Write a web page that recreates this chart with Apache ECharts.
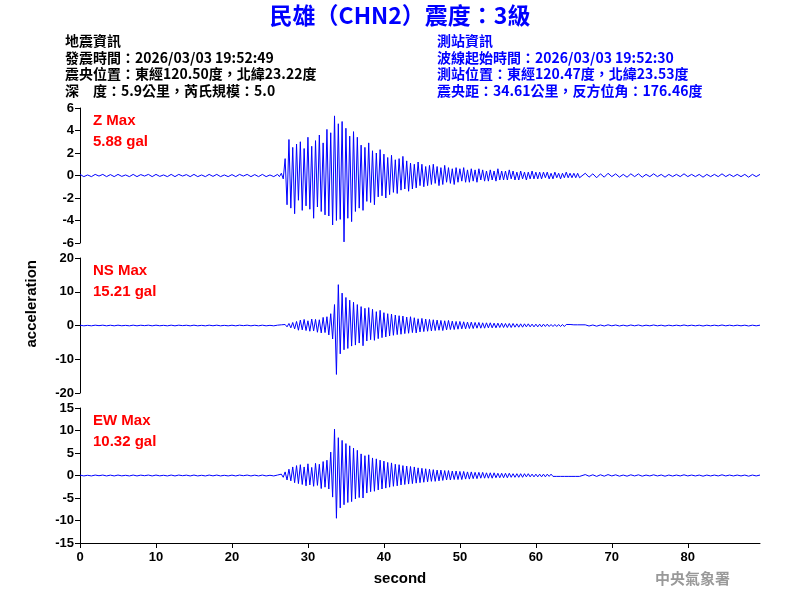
<!DOCTYPE html>
<html><head><meta charset="utf-8">
<script src="https://cdn.jsdelivr.net/npm/echarts@6/dist/echarts.min.js"></script>
<style>html,body{margin:0;background:#fff}#c{width:800px;height:600px}</style>
</head><body><div id="c"></div>
<script>
var dtMain = 0.25, tMain0 = 26, dtSlow = 0.5, tTail0 = 66.5;
var preNoise = [0.1,-0.1,0.05,-0.1,0.1,-0.05,0.1,-0.1,0.08,-0.1,0.1,-0.08,0.05,-0.1,0.1,-0.1,0.08,-0.05,0.1,-0.1,0.1,-0.08,0.05,-0.1,0.1,-0.1,
  0.1,-0.05,0.08,-0.1,0.1,-0.1,0.05,-0.1,0.1,-0.08,0.1,-0.1,0.05,-0.1,0.08,-0.1,0.1,-0.05,0.1,-0.1,0.08,-0.1,0.1,-0.1,0.05,-0.1];
var tailNoise = [0.2,-0.15,0.15,-0.2,0.15,-0.15,0.2,-0.1,0.15,-0.15,0.1,-0.15,0.15,-0.1,0.15,-0.15,0.1,-0.1,0.15,-0.1,0.1,-0.15,0.1,-0.1,
  0.1,-0.1,0.15,-0.1,0.1,-0.1,0.1,-0.15,0.1,-0.1,0.1,-0.1,0.15,-0.1,0.1,-0.1,0.1,-0.1,0.1,-0.15,0.1,-0.1,0.1];
var zMain = [0.1,-0.1,0.2,-0.3,1.5,-2.6,3.2,-2.9,2.5,-3.4,2.8,-2.2,3.0,-3.1,2.4,-2.7,3.4,-3.0,2.6,-3.8,
  3.1,-2.8,3.6,-3.2,2.9,-3.5,4.1,-3.6,3.8,-4.4,5.3,-4.0,4.6,-3.9,4.8,-5.9,4.2,-3.8,3.5,-4.1,
  3.9,-3.2,3.4,-2.9,2.7,-3.1,2.5,-2.3,2.9,-2.4,2.2,-2.6,2.0,-1.9,2.3,-1.8,1.9,-2.0,1.6,-1.7,
  1.8,-1.5,1.4,-1.6,1.5,-1.3,1.7,-1.2,1.3,-1.4,1.1,-1.2,1.0,-1.1,1.2,-0.9,1.0,-1.0,0.8,-0.9,
  0.9,-0.8,1.0,-0.7,0.8,-0.9,0.7,-0.8,0.9,-0.6,0.7,-0.7,0.6,-0.8,0.7,-0.6,0.6,-0.5,0.7,-0.6,
  0.5,-0.6,0.6,-0.5,0.5,-0.6,0.6,-0.4,0.5,-0.5,0.4,-0.5,0.5,-0.4,0.4,-0.5,0.6,-0.4,0.4,-0.4,
  0.4,-0.4,0.5,-0.3,0.4,-0.4,0.3,-0.4,0.4,-0.3,0.3,-0.4,0.3,-0.3,0.4,-0.3,0.3,-0.3,0.3,-0.3,
  0.3,-0.2,0.3,-0.3,0.2,-0.3,0.3,-0.2,0.2,-0.3,0.2,-0.2,0.3,-0.2,0.2,-0.2,0.2,-0.2,0.2,-0.2];
var nsMain = [0.1,-0.1,0.2,-0.2,0.3,-0.4,0.6,-0.7,0.9,-1.0,1.2,-1.4,1.6,-1.3,1.8,-1.5,1.4,-1.7,1.9,-1.6,
  1.8,-2.0,1.7,-2.2,2.4,-2.1,2.6,-2.8,3.5,-4.0,6.2,-14.5,12.1,-8.4,9.6,-7.2,8.3,-6.8,7.5,-6.1,
  6.9,-5.8,6.2,-5.2,5.6,-6.0,5.1,-4.6,5.3,-4.2,4.8,-4.4,4.1,-3.9,4.5,-3.6,3.8,-3.4,3.5,-3.1,
  3.4,-2.9,3.1,-2.7,2.9,-2.6,2.8,-2.4,2.5,-2.3,2.6,-2.1,2.3,-2.2,2.0,-1.9,2.1,-1.8,1.9,-1.7,
  1.8,-1.6,1.7,-1.5,1.6,-1.4,1.5,-1.5,1.4,-1.3,1.5,-1.2,1.3,-1.2,1.2,-1.1,1.2,-1.0,1.1,-1.0,
  1.0,-0.9,1.0,-0.9,0.9,-0.8,0.9,-0.8,0.8,-0.8,0.8,-0.7,0.8,-0.7,0.7,-0.7,0.7,-0.6,0.7,-0.6,
  0.6,-0.6,0.6,-0.6,0.6,-0.5,0.5,-0.5,0.5,-0.5,0.5,-0.4,0.5,-0.4,0.4,-0.4,0.4,-0.4,0.4,-0.4,
  0.4,-0.3,0.4,-0.3,0.3,-0.3,0.3,-0.3,0.3,-0.3,0.3,-0.3,0.3,-0.2,0.3,-0.2,0.2,-0.2,0.2,-0.2];
var ewMain = [0.1,-0.1,0.3,-0.4,0.8,-1.0,1.4,-1.2,1.9,-1.6,2.2,-1.8,2.4,-2.0,1.9,-2.3,2.6,-2.1,1.8,-2.4,
  2.7,-2.2,2.5,-2.9,3.1,-2.6,3.4,-3.0,5.2,-4.8,10.3,-9.5,8.4,-7.2,7.8,-6.5,7.1,-6.0,6.6,-5.8,
  6.1,-5.2,5.6,-4.9,4.8,-5.0,4.4,-3.9,4.6,-3.6,3.9,-3.5,3.7,-3.2,3.4,-3.0,3.2,-2.8,2.9,-2.6,
  2.8,-2.4,2.5,-2.3,2.4,-2.1,2.2,-2.0,2.1,-1.9,2.0,-1.8,1.9,-1.7,1.7,-1.6,1.6,-1.5,1.5,-1.4,
  1.4,-1.3,1.3,-1.3,1.2,-1.2,1.2,-1.1,1.1,-1.0,1.1,-1.0,1.0,-0.9,1.0,-0.9,0.9,-0.9,0.9,-0.8,
  0.8,-0.8,0.8,-0.7,0.7,-0.7,0.7,-0.6,0.7,-0.6,0.6,-0.6,0.6,-0.6,0.6,-0.5,0.5,-0.5,0.5,-0.5,
  0.5,-0.5,0.5,-0.4,0.4,-0.4,0.4,-0.4,0.4,-0.4,0.4,-0.3,0.4,-0.3,0.3,-0.3,0.3,-0.3,0.3,-0.3,
  0.3,-0.3,0.3,-0.2,0.3,-0.2,0.2,-0.2,0.2,-0.2,0.2,-0.2,0.2,-0.2,0.2,-0.2,0.2,-0.2,0.2,-0.2];
var panelNames = ['Z Max', 'NS Max', 'EW Max'];
var panelPeaks = ['5.88 gal', '15.21 gal', '10.32 gal'];
var yRanges = [[-6, 6, 2], [-20, 20, 10], [-15, 15, 5]];
var xTicks = [0, 10, 20, 30, 40, 50, 60, 70, 80];
var leftInfo = ['地震資訊', '發震時間：2026/03/03 19:52:49', '震央位置：東經120.50度，北緯23.22度', '深　度：5.9公里，芮氏規模：5.0'];
var rightInfo = ['測站資訊', '波線起始時間：2026/03/03 19:52:30', '測站位置：東經120.47度，北緯23.53度', '震央距：34.61公里，反方位角：176.46度'];

function trace(main) {
  var d = [];
  preNoise.forEach(function(v, i) { d.push([i * dtSlow, v]); });
  main.forEach(function(v, i) { d.push([tMain0 + i * dtMain, v]); });
  tailNoise.forEach(function(v, i) { d.push([tTail0 + i * dtSlow, v]); });
  return d;
}
var traces = [trace(zMain), trace(nsMain), trace(ewMain)];
var tops = [108, 258, 408];
var F = 'Arial, "Liberation Sans", sans-serif';

var grids = [], xAxes = [], yAxes = [], series = [], graphic = [];
traces.forEach(function(d, k) {
  grids.push({ left: 80, width: 680, top: tops[k], height: 135 });
  xAxes.push({
    gridIndex: k, type: 'value', min: 0, max: 89.5, interval: 10,
    show: k === 2,
    axisLine: { onZero: false, lineStyle: { color: '#000' } },
    axisTick: { length: 5, lineStyle: { color: '#000' } },
    axisLabel: { color: '#000', fontFamily: F, fontSize: 13, fontWeight: 'bold', showMaxLabel: false,
      formatter: function(v) { return xTicks.indexOf(v) >= 0 ? v : ''; } },
    splitLine: { show: false }
  });
  yAxes.push({
    gridIndex: k, type: 'value', min: yRanges[k][0], max: yRanges[k][1], interval: yRanges[k][2],
    axisLine: { show: true, onZero: false, lineStyle: { color: '#000' } },
    axisTick: { show: true, length: 5, lineStyle: { color: '#000' } },
    axisLabel: { color: '#000', fontFamily: F, fontSize: 13, fontWeight: 'bold', margin: 6 },
    splitLine: { show: false }
  });
  series.push({ type: 'line', xAxisIndex: k, yAxisIndex: k, data: d, showSymbol: false,
    lineStyle: { color: '#0000ff', width: 1 }, silent: true, z: 1 });
  graphic.push({ type: 'text', left: 93, top: tops[k] + 2, style: { text: panelNames[k] + '\n' + panelPeaks[k],
    fill: '#ff0000', font: 'bold 15px ' + F, lineHeight: 21 } });
});

graphic.push({ type: 'text', left: 'center', top: 4, style: { text: '民雄（CHN2）震度：3級', fill: '#0000ff', font: 'bold 23px "Noto Sans CJK TC", ' + F } });
leftInfo.forEach(function(t, i) {
  graphic.push({ type: 'text', left: 65, top: 34 + i * 16.5, style: { text: t, fill: '#000', font: 'bold 14px "Noto Sans CJK TC", ' + F } });
});
rightInfo.forEach(function(t, i) {
  graphic.push({ type: 'text', left: 437, top: 34 + i * 16.5, style: { text: t, fill: '#0000ff', font: 'bold 14px "Noto Sans CJK TC", ' + F } });
});
graphic.push({ type: 'text', left: 24, top: 260, rotation: Math.PI / 2, originX: 0, originY: 0,
  style: { text: 'acceleration', fill: '#000', font: 'bold 15px ' + F, x: 0, y: 0, align: 'center', verticalAlign: 'middle' },
  x: 32, y: 325 });
graphic.push({ type: 'text', left: 'center', top: 571, style: { text: 'second', fill: '#000', font: 'bold 15px ' + F } });
graphic.push({ type: 'text', left: 655, top: 571, style: { text: '中央氣象署', fill: '#999', font: 'bold 15px "Noto Sans CJK TC", serif' } });

var chart = echarts.init(document.getElementById('c'));
chart.setOption({ animation: false, grid: grids, xAxis: xAxes, yAxis: yAxes, series: series, graphic: graphic });
</script></body></html>
